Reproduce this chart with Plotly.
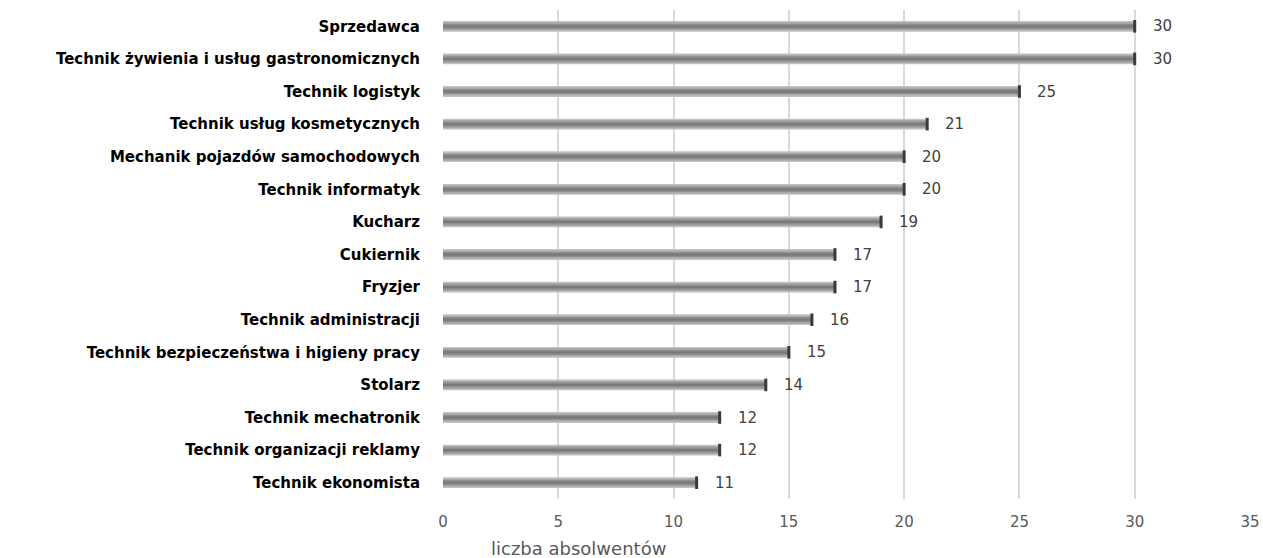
import plotly.graph_objects as go

categories = [
    "Sprzedawca",
    "Technik żywienia i usług gastronomicznych",
    "Technik logistyk",
    "Technik usług kosmetycznych",
    "Mechanik pojazdów samochodowych",
    "Technik informatyk",
    "Kucharz",
    "Cukiernik",
    "Fryzjer",
    "Technik administracji",
    "Technik bezpieczeństwa i higieny pracy",
    "Stolarz",
    "Technik mechatronik",
    "Technik organizacji reklamy",
    "Technik ekonomista",
]
values = [30, 30, 25, 21, 20, 20, 19, 17, 17, 16, 15, 14, 12, 12, 11]
x_ticks = [0, 5, 10, 15, 20, 25, 30, 35]

W, H = 1263, 558
L, R, T, B = 443, 13, 10, 59
PW, PH = W - L - R, H - T - B

fig = go.Figure()
# layered bars to mimic the cylindrical gradient look
layers = [
    (0.33, "#c2c2c2"),
    (0.25, "#a8a8a8"),
    (0.16, "#8e8e8e"),
    (0.07, "#7a7a7a"),
]
for w, c in layers:
    fig.add_trace(go.Bar(
        y=categories, x=values, orientation="h", width=w,
        marker=dict(color=c, line=dict(width=0)),
        hoverinfo="skip", showlegend=False,
    ))
# dark end caps
fig.add_trace(go.Scatter(
    y=categories, x=values, mode="markers",
    marker=dict(symbol="line-ns", size=9, line=dict(color="#3a3a3a", width=3)),
    hoverinfo="skip", showlegend=False,
))

for cat, v in zip(categories, values):
    fig.add_annotation(x=v, y=cat, text=str(v), showarrow=False,
                       xanchor="left", xshift=16,
                       font=dict(family="DejaVu Sans", size=15, color="#404040"))

fig.add_annotation(
    xref="x domain", yref="y domain",
    x=(578 - L) / PW, y=-(548 - (H - B)) / PH,
    text="liczba absolwentów", showarrow=False,
    xanchor="center", yanchor="middle",
    font=dict(family="DejaVu Sans", size=18, color="#595959"),
)

fig.update_layout(
    width=W, height=H,
    margin=dict(l=L, r=R, t=T, b=B, autoexpand=False),
    barmode="overlay",
    plot_bgcolor="white", paper_bgcolor="white",
    xaxis=dict(range=[0, 35], tickvals=x_ticks, showgrid=True, gridcolor="#d9d9d9",
               gridwidth=2, zeroline=False, showline=False, ticks="",
               automargin=False, ticklabelstandoff=12,
               tickfont=dict(family="DejaVu Sans", size=15, color="#595959")),
    yaxis=dict(range=[len(categories) - 0.5, -0.5], showgrid=False, zeroline=False,
               showline=False, ticks="", automargin=False, ticklabelstandoff=22,
               tickfont=dict(family="DejaVu Sans", size=15, color="#000000", weight="bold")),
)

fig.write_html("out.html", config={"displayModeBar": False},
               post_script="document.body.style.margin='0';document.body.style.overflow='hidden';")
